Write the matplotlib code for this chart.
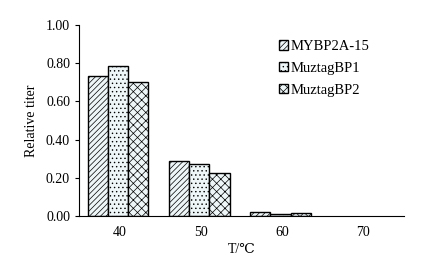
import numpy as np
import matplotlib.pyplot as plt

plt.rcParams['font.family'] = ['Liberation Serif', 'DejaVu Serif']
plt.rcParams['hatch.linewidth'] = 0.5
plt.rcParams['hatch.color'] = '#4a6a7a'

temps = ['40', '50', '60', '70']
series = ['MYBP2A-15', 'MuztagBP1', 'MuztagBP2']
mybp2a = [0.735, 0.29, 0.02, 0.0]
muztag1 = [0.785, 0.272, 0.01, 0.0]
muztag2 = [0.70, 0.225, 0.015, 0.0]
values = [mybp2a, muztag1, muztag2]
hatches = ['//////', '....', 'xxxx']

fig = plt.figure(figsize=(4.32, 2.61), dpi=100)
ax = fig.add_axes([0.183, 0.172, 0.752, 0.732])

x = np.arange(len(temps))
w = 0.25
for i, (name, vals) in enumerate(zip(series, values)):
    lw = [1.0 if v > 0 else 0 for v in vals]
    bars = ax.bar(x + (i - 1) * w - 0.02, vals, width=w, color='#eef6f8',
                  edgecolor='black', linewidth=lw, hatch=hatches[i], label=name)
    for b, v in zip(bars, vals):
        if v <= 0:
            b.set_visible(False)

ax.set_xlim(-0.5, 3.5)
ax.set_ylim(0, 1.0)
ax.set_xticks(x)
ax.set_xticklabels(temps)
ax.set_yticks(np.arange(0, 1.01, 0.2))
ax.set_yticklabels(['%.2f' % v for v in np.arange(0, 1.01, 0.2)])
ax.tick_params(axis='x', length=0, pad=7, labelsize=10)
ax.tick_params(axis='y', direction='out', length=3, labelsize=10)
ax.spines['top'].set_visible(False)
ax.spines['right'].set_visible(False)
ax.set_xlabel('T/\u2103', fontsize=10, labelpad=3)
ax.set_ylabel('Relative titer', fontsize=10, labelpad=6)

ax.legend(loc='upper left', bbox_to_anchor=(0.575, 0.99), frameon=False,
          fontsize=10.5, handlelength=0.6, handleheight=0.6, handletextpad=0.2,
          labelspacing=0.6)

fig.savefig('out.png', dpi=100)
